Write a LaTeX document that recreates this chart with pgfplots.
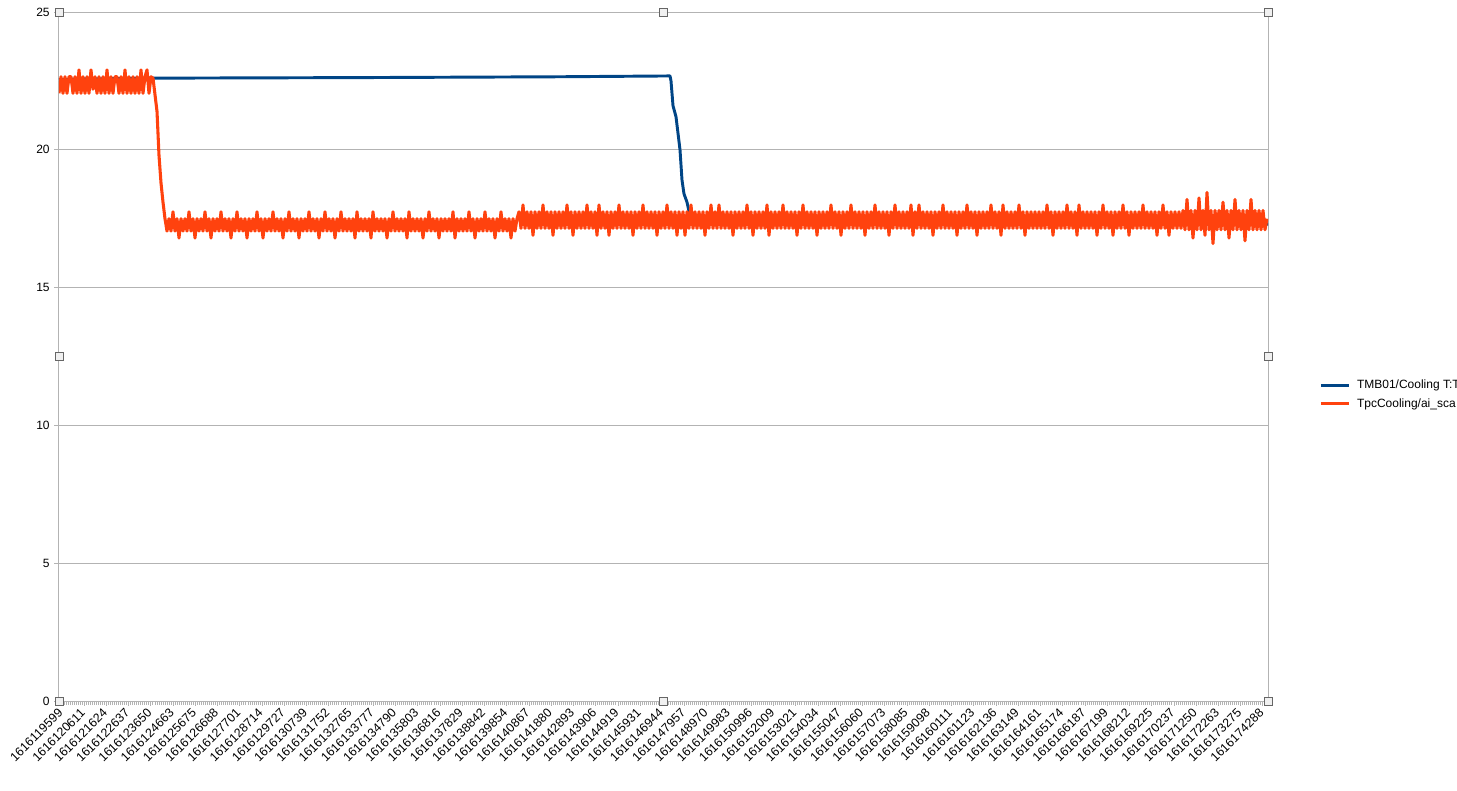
\documentclass[border=0pt]{standalone}
\usepackage{fontspec}
\setmainfont{Liberation Sans}
\usepackage{pgfplots}
\pgfplotsset{compat=1.18}
\definecolor{serA}{HTML}{004586}
\definecolor{serB}{HTML}{FF420E}
\definecolor{gridc}{HTML}{B3B3B3}
\begin{document}
\begin{tikzpicture}
% 1px = 0.75pt, axis box lower left at the origin
\useasboundingbox (-44.25pt,-66.75pt) rectangle (1048.5pt,525.75pt);
\clip (-44.25pt,-66.75pt) rectangle (1048.5pt,525.75pt);
\begin{axis}[
    name=ax,
    at={(0,0)}, anchor=south west,
    scale only axis,
    width=906.75pt, height=516.75pt,
    xmin=0, xmax=1209,
    ymin=0, ymax=25,
    ytick={0,5,...,25},
    xtick={3,25.24,...,1205},
    xticklabels={1616119599,1616120611,1616121624,1616122637,1616123650,1616124663,1616125675,1616126688,1616127701,1616128714,1616129727,1616130739,1616131752,1616132765,1616133777,1616134790,1616135803,1616136816,1616137829,1616138842,1616139854,1616140867,1616141880,1616142893,1616143906,1616144919,1616145931,1616146944,1616147957,1616148970,1616149983,1616150996,1616152009,1616153021,1616154034,1616155047,1616156060,1616157073,1616158085,1616159098,1616160111,1616161123,1616162136,1616163149,1616164161,1616165174,1616166187,1616167199,1616168212,1616169225,1616170237,1616171250,1616172263,1616173275,1616174288},
    minor x tick num=10,
    tick align=outside,
    major tick length=3.5pt,
    minor tick length=3pt,
    tick style={gridc, line width=0.75pt},
    xtick pos=bottom, ytick pos=left,
    ymajorgrids,
    grid style={gridc, line width=0.75pt},
    axis line style={gridc, line width=0.75pt},
    /pgf/number format/assume math mode=true,
    tick label style={font=\fontsize{9}{10.8}\selectfont},
    xticklabel style={xshift=-3.5pt, rotate=45, anchor=north east, inner sep=1pt, font=\fontsize{9.3}{11}\selectfont},
    legend style={at={(1.0422,0.4449)}, anchor=west, draw=none, fill=none,
        inner sep=0pt, column sep=5pt, row sep=5pt,
        font=\fontsize{9}{10.8}\selectfont,
        nodes={inner sep=0pt, text height=7pt, text depth=2pt}},
    legend cell align=left,
    legend image code/.code={\draw[#1] (0pt,0pt) -- (21pt,0pt);},
]
\addplot[serA, line width=2.2pt, line join=round] coordinates {
(0,22.55) (20,22.57) (94,22.6) (300,22.62) (500,22.65) (611,22.68)
(612,22.5) (614,21.6) (617,21.2) (619,20.6) (621,20.0) (623,18.9)
(625,18.4) (628,18.1) (631,17.6) (636,17.35) (700,17.3) (900,17.28)
(1100,17.3) (1209,17.3)
};
\addlegendentry{TMB01/Cooling T:T}

\addplot[serB, line width=2.3pt, line join=round] table[row sep=\\, x expr=\coordindex*2, y index=0] {
y\\
22.05\\22.65\\22.05\\22.65\\22.05\\22.65\\22.65\\22.05\\22.65\\22.05\\
22.9\\22.05\\22.65\\22.05\\22.65\\22.05\\22.9\\22.2\\22.65\\22.05\\
22.65\\22.05\\22.65\\22.05\\22.9\\22.05\\22.65\\22.05\\22.65\\22.65\\
22.05\\22.65\\22.05\\22.9\\22.05\\22.65\\22.05\\22.65\\22.05\\22.65\\
22.05\\22.9\\22.05\\22.65\\22.9\\22.05\\22.65\\
22.6\\22.0\\21.4\\19.8\\18.8\\18.1\\17.5\\17.05\\
17.5\\17.05\\17.75\\17.05\\17.5\\16.8\\17.5\\17.05\\17.5\\17.05\\17.75\\17.05\\17.5\\16.8\\17.5\\17.05\\17.5\\17.05\\17.75\\17.05\\
17.5\\16.8\\17.5\\17.05\\17.5\\17.05\\17.75\\17.05\\17.5\\17.05\\17.5\\16.8\\17.5\\17.05\\17.75\\17.05\\17.5\\17.05\\17.5\\16.8\\
17.5\\17.05\\17.5\\17.05\\17.75\\17.05\\17.5\\16.8\\17.5\\17.05\\17.5\\17.05\\17.75\\17.05\\17.5\\17.05\\17.5\\16.8\\17.5\\17.05\\
17.75\\17.05\\17.5\\17.05\\17.5\\16.8\\17.5\\17.05\\17.5\\17.05\\17.75\\17.05\\17.5\\17.05\\17.5\\16.8\\17.5\\17.05\\17.75\\17.05\\
17.5\\17.05\\17.5\\16.8\\17.5\\17.05\\17.75\\17.05\\17.5\\17.05\\17.5\\17.05\\17.5\\16.8\\17.75\\17.05\\17.5\\17.05\\17.5\\17.05\\
17.5\\16.8\\17.75\\17.05\\17.5\\17.05\\17.5\\17.05\\17.5\\16.8\\17.5\\17.05\\17.75\\17.05\\17.5\\17.05\\17.5\\17.05\\17.5\\16.8\\
17.75\\17.05\\17.5\\17.05\\17.5\\17.05\\17.5\\16.8\\17.5\\17.05\\17.75\\17.05\\17.5\\17.05\\17.5\\16.8\\17.5\\17.05\\17.5\\17.05\\
17.5\\17.05\\17.75\\16.8\\17.5\\17.05\\17.5\\17.05\\17.5\\17.05\\17.75\\17.05\\17.5\\16.8\\17.5\\17.05\\17.5\\17.05\\17.75\\17.05\\
17.5\\17.05\\17.5\\16.8\\17.5\\17.05\\17.75\\17.05\\17.5\\17.05\\17.5\\16.8\\17.5\\17.05\\17.5\\
17.75\\17.15\\18.0\\17.15\\17.75\\17.15\\17.75\\16.9\\17.75\\17.15\\17.75\\17.15\\18.0\\17.15\\17.75\\17.15\\17.75\\16.9\\17.75\\17.15\\
17.75\\17.15\\17.75\\17.15\\18.0\\17.15\\17.75\\16.9\\17.75\\17.15\\17.75\\17.15\\17.75\\17.15\\18.0\\17.15\\17.75\\17.15\\17.75\\16.9\\
18.0\\17.15\\17.75\\17.15\\17.75\\16.9\\17.75\\17.15\\17.75\\17.15\\18.0\\17.15\\17.75\\17.15\\17.75\\17.15\\17.75\\16.9\\17.75\\17.15\\
17.75\\17.15\\18.0\\17.15\\17.75\\17.15\\17.75\\17.15\\17.75\\16.9\\17.75\\17.15\\17.75\\17.15\\18.0\\17.15\\17.75\\17.15\\17.75\\16.9\\
17.75\\17.15\\17.75\\16.9\\17.75\\17.15\\18.0\\17.15\\17.75\\17.15\\17.75\\17.15\\17.75\\16.9\\17.75\\17.15\\18.0\\17.15\\17.75\\17.15\\
18.0\\17.15\\17.75\\17.15\\17.75\\17.15\\17.75\\16.9\\17.75\\17.15\\17.75\\17.15\\17.75\\17.15\\18.0\\17.15\\17.75\\16.9\\17.75\\17.15\\
17.75\\17.15\\17.75\\17.15\\18.0\\16.9\\17.75\\17.15\\17.75\\17.15\\17.75\\17.15\\18.0\\17.15\\17.75\\17.15\\17.75\\17.15\\17.75\\16.9\\
17.75\\17.15\\18.0\\17.15\\17.75\\17.15\\17.75\\17.15\\17.75\\16.9\\17.75\\17.15\\17.75\\17.15\\17.75\\17.15\\18.0\\17.15\\17.75\\17.15\\
17.75\\16.9\\17.75\\17.15\\17.75\\17.15\\18.0\\17.15\\17.75\\17.15\\17.75\\17.15\\17.75\\16.9\\17.75\\17.15\\17.75\\17.15\\18.0\\17.15\\
17.75\\17.15\\17.75\\17.15\\17.75\\16.9\\17.75\\17.15\\18.0\\17.15\\17.75\\17.15\\17.75\\17.15\\17.75\\17.15\\18.0\\16.9\\17.75\\17.15\\
18.0\\17.15\\17.75\\17.15\\17.75\\17.15\\17.75\\16.9\\17.75\\17.15\\17.75\\17.15\\18.0\\17.15\\17.75\\17.15\\17.75\\17.15\\17.75\\16.9\\
17.75\\17.15\\17.75\\17.15\\18.0\\17.15\\17.75\\17.15\\17.75\\16.9\\17.75\\17.15\\17.75\\17.15\\17.75\\17.15\\18.0\\17.15\\17.75\\17.15\\
17.75\\16.9\\18.0\\17.15\\17.75\\17.15\\17.75\\17.15\\17.75\\17.15\\18.0\\17.15\\17.75\\16.9\\17.75\\17.15\\17.75\\17.15\\17.75\\17.15\\
17.75\\17.15\\17.75\\17.15\\18.0\\17.15\\17.75\\16.9\\17.75\\17.15\\17.75\\17.15\\17.75\\17.15\\18.0\\17.15\\17.75\\17.15\\17.75\\16.9\\
18.0\\17.15\\17.75\\17.15\\17.75\\17.15\\17.75\\17.15\\17.75\\16.9\\17.75\\17.15\\18.0\\17.15\\17.75\\17.15\\17.75\\16.9\\17.75\\17.15\\
17.75\\17.15\\18.0\\17.15\\17.75\\16.9\\17.75\\17.15\\17.75\\17.15\\17.75\\17.15\\18.0\\17.15\\17.75\\17.15\\17.75\\17.15\\17.75\\16.9\\
17.75\\17.15\\18.0\\17.15\\17.75\\16.9\\17.75\\17.15\\17.75\\17.15\\17.75\\
17.15\\17.8\\17.1\\18.2\\17.1\\17.8\\16.8\\17.8\\17.1\\18.25\\17.1\\17.8\\16.9\\18.45\\17.1\\17.8\\16.6\\17.8\\17.1\\17.8\\
17.1\\18.1\\17.1\\17.8\\16.8\\17.8\\17.1\\18.2\\17.1\\17.8\\17.1\\17.8\\16.7\\17.8\\17.1\\18.2\\17.1\\17.8\\17.1\\17.8\\
17.1\\17.8\\17.1\\17.5\\
};
\addlegendentry{TpcCooling/ai\_sca}
\end{axis}
% selection handles round the plot area
\foreach \p in {north west,north,north east,west,east,south west,south,south east}
  \draw[draw=black!60, fill=black!6, line width=0.75pt] (ax.\p) ++(-3pt,-3pt) rectangle ++(6pt,6pt);
\end{tikzpicture}
\end{document}
